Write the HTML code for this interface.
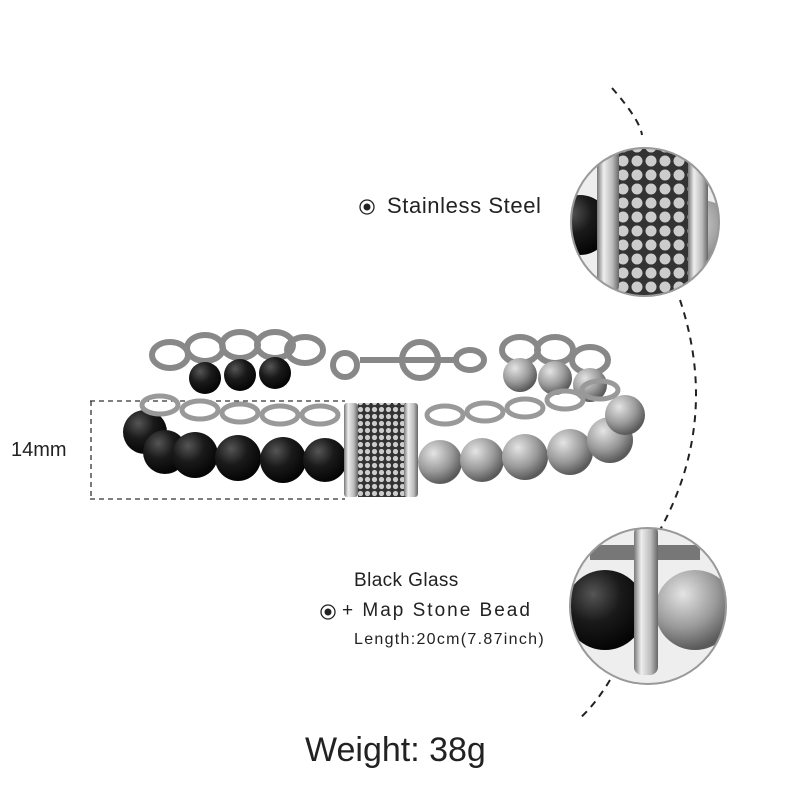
<!DOCTYPE html>
<html><head><meta charset="utf-8"><style>
html,body{margin:0;padding:0;background:#fff;}
body{width:800px;height:800px;overflow:hidden;position:relative;font-family:"Liberation Sans",sans-serif;color:#222;}
.t{position:absolute;white-space:nowrap;}
</style></head><body>
<svg width="800" height="800" style="position:absolute;left:0;top:0">
<defs>
<radialGradient id="blk" cx="35%" cy="30%" r="70%"><stop offset="0" stop-color="#555"/><stop offset="0.5" stop-color="#1a1a1a"/><stop offset="1" stop-color="#050505"/></radialGradient>
<radialGradient id="gry" cx="35%" cy="30%" r="70%"><stop offset="0" stop-color="#e4e4e4"/><stop offset="0.6" stop-color="#9a9a9a"/><stop offset="1" stop-color="#5a5a5a"/></radialGradient>
<linearGradient id="stl" x1="0" x2="1"><stop offset="0" stop-color="#777"/><stop offset="0.3" stop-color="#eee"/><stop offset="0.7" stop-color="#bbb"/><stop offset="1" stop-color="#666"/></linearGradient>
<pattern id="dots" width="7" height="7" patternUnits="userSpaceOnUse"><rect width="7" height="7" fill="#333"/><circle cx="3.5" cy="3.5" r="2.6" fill="#ccc"/></pattern>
<pattern id="dots2" width="14" height="14" patternUnits="userSpaceOnUse"><rect width="14" height="14" fill="#333"/><circle cx="7" cy="7" r="5.5" fill="#ccc"/></pattern>
<clipPath id="c1"><circle cx="645" cy="222" r="74"/></clipPath>
<clipPath id="c2"><circle cx="648" cy="606" r="78"/></clipPath>
</defs>
<path d="M612 88 Q640 120 642 135" fill="none" stroke="#222" stroke-width="2" stroke-dasharray="7,6"/>
<path d="M680 300 Q720 420 660 530" fill="none" stroke="#222" stroke-width="2" stroke-dasharray="7,6"/>
<path d="M610 680 Q595 705 578 720" fill="none" stroke="#222" stroke-width="2" stroke-dasharray="7,6"/>
<line x1="90" y1="401" x2="345" y2="401" stroke="#333" stroke-width="1.3" stroke-dasharray="5,4"/>
<line x1="90" y1="499" x2="345" y2="499" stroke="#333" stroke-width="1.3" stroke-dasharray="5,4"/>
<line x1="91" y1="401" x2="91" y2="499" stroke="#333" stroke-width="1.3" stroke-dasharray="5,4"/>
<g fill="none" stroke="#888" stroke-width="6">
<ellipse cx="170" cy="355" rx="18" ry="13"/><ellipse cx="205" cy="348" rx="18" ry="13"/><ellipse cx="240" cy="345" rx="18" ry="13"/><ellipse cx="275" cy="345" rx="18" ry="13"/><ellipse cx="305" cy="350" rx="18" ry="13"/>
<ellipse cx="520" cy="350" rx="18" ry="13"/><ellipse cx="555" cy="350" rx="18" ry="13"/><ellipse cx="590" cy="360" rx="18" ry="13"/>
<circle cx="345" cy="365" r="12"/><path d="M360 360 L455 360"/><circle cx="420" cy="360" r="18"/><ellipse cx="470" cy="360" rx="14" ry="10"/>
</g>
<g fill="url(#blk)"><circle cx="205" cy="378" r="16"/><circle cx="240" cy="375" r="16"/><circle cx="275" cy="373" r="16"/></g>
<g fill="url(#gry)"><circle cx="520" cy="375" r="17"/><circle cx="555" cy="378" r="17"/><circle cx="590" cy="385" r="17"/></g>
<g fill="url(#blk)"><circle cx="145" cy="432" r="22"/><circle cx="165" cy="452" r="22"/><circle cx="195" cy="455" r="23"/><circle cx="238" cy="458" r="23"/><circle cx="283" cy="460" r="23"/><circle cx="325" cy="460" r="22"/></g>
<g fill="url(#gry)"><circle cx="440" cy="462" r="22"/><circle cx="482" cy="460" r="22"/><circle cx="525" cy="457" r="23"/><circle cx="570" cy="452" r="23"/><circle cx="610" cy="440" r="23"/><circle cx="625" cy="415" r="20"/></g>
<g fill="none" stroke="#999" stroke-width="5">
<ellipse cx="160" cy="405" rx="18" ry="9"/><ellipse cx="200" cy="410" rx="18" ry="9"/><ellipse cx="240" cy="413" rx="18" ry="9"/><ellipse cx="280" cy="415" rx="18" ry="9"/><ellipse cx="320" cy="415" rx="18" ry="9"/>
<ellipse cx="445" cy="415" rx="18" ry="9"/><ellipse cx="485" cy="412" rx="18" ry="9"/><ellipse cx="525" cy="408" rx="18" ry="9"/><ellipse cx="565" cy="400" rx="18" ry="9"/><ellipse cx="600" cy="390" rx="18" ry="9"/>
</g>
<rect x="358" y="403" width="48" height="94" fill="url(#dots)"/>
<rect x="344" y="403" width="14" height="94" rx="3" fill="url(#stl)"/>
<rect x="404" y="403" width="14" height="94" rx="3" fill="url(#stl)"/>
<circle cx="645" cy="222" r="75" fill="#eee"/>
<g clip-path="url(#c1)">
<circle cx="580" cy="225" r="30" fill="url(#blk)"/>
<circle cx="700" cy="240" r="40" fill="url(#gry)"/>
<rect x="618" y="147" width="72" height="160" fill="url(#dots2)"/>
<rect x="597" y="147" width="22" height="145" rx="6" fill="url(#stl)"/>
<rect x="688" y="147" width="20" height="145" rx="6" fill="url(#stl)"/>
</g>
<circle cx="645" cy="222" r="74" fill="none" stroke="#999" stroke-width="2"/>
<circle cx="648" cy="606" r="78" fill="#eee"/>
<g clip-path="url(#c2)">
<circle cx="605" cy="610" r="40" fill="url(#blk)"/>
<circle cx="695" cy="610" r="40" fill="url(#gry)"/>
<path d="M590 545 L700 545 L700 560 L590 560Z" fill="#777"/>
<rect x="634" y="525" width="24" height="150" rx="8" fill="url(#stl)"/>
</g>
<circle cx="648" cy="606" r="78" fill="none" stroke="#999" stroke-width="2"/>
<circle cx="367" cy="207" r="7" fill="none" stroke="#222" stroke-width="1.3"/><circle cx="367" cy="207" r="3.5" fill="#222"/>
<circle cx="328" cy="612" r="7" fill="none" stroke="#222" stroke-width="1.3"/><circle cx="328" cy="612" r="3.5" fill="#222"/>
</svg>
<div class="t" style="left:387px;top:193px;font-size:22px;letter-spacing:0.6px;">Stainless Steel</div>
<div class="t" style="left:11px;top:439px;font-size:20px;">14mm</div>
<div class="t" style="left:354px;top:570px;font-size:19px;letter-spacing:0.4px;">Black Glass</div>
<div class="t" style="left:342px;top:600px;font-size:19px;letter-spacing:2px;">+ Map Stone Bead</div>
<div class="t" style="left:354px;top:631px;font-size:16px;letter-spacing:1.3px;">Length:20cm(7.87inch)</div>
<div class="t" style="left:305px;top:731px;font-size:34px;">Weight: 38g</div>
</body></html>
